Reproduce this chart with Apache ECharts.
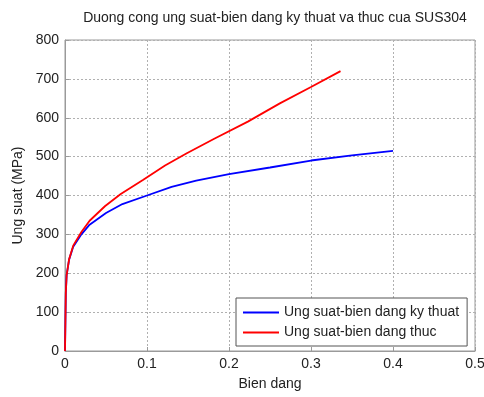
<!DOCTYPE html>
<html>
<head>
<meta charset="utf-8">
<script src="https://cdn.jsdelivr.net/npm/echarts@6/dist/echarts.min.js"></script>
<style>
  html, body { margin: 0; padding: 0; background: #fff; }
  #chart { width: 484px; height: 397px; }
</style>
</head>
<body>
<div id="chart"></div>
<script>
// 工程应力-应变 (engineering)
const engStrain = [0, 0.001, 0.002, 0.005, 0.01, 0.02, 0.03, 0.05, 0.07, 0.1, 0.13, 0.16, 0.2, 0.25, 0.3, 0.35, 0.4]
const engStress = [0, 150, 195, 235, 268, 300, 325, 355, 378, 400, 422, 438, 455, 472, 490, 503, 515]

// 真实应力-应变 (true)
const trueStrain = [0, 0.001, 0.002, 0.005, 0.01, 0.02, 0.03, 0.049, 0.068, 0.095, 0.122, 0.148, 0.182, 0.223, 0.262, 0.3, 0.336]
const trueStress = [0, 150, 195, 236, 271, 306, 335, 373, 404, 440, 477, 508, 546, 590, 637, 679, 720]

const seriesNames = ['Ung suat-bien dang ky thuat', 'Ung suat-bien dang thuc']
const titleText = 'Duong cong ung suat-bien dang ky thuat va thuc cua SUS304'

const FONT = 'Liberation Sans'
const pair = (xs, ys) => xs.map((x, i) => [x, ys[i]])

const axisCommon = {
  axisLine: {show: true, lineStyle: {color: '#9a9a9a', width: 1}},
  axisTick: {show: true, inside: true, length: 4, lineStyle: {color: '#9a9a9a'}},
  axisLabel: {color: '#222', fontSize: 14, fontFamily: FONT, margin: 6},
  splitLine: {show: true, lineStyle: {color: '#b0b0b0', width: 1, type: [2, 2]}},
  nameTextStyle: {color: '#222', fontSize: 14, fontFamily: FONT}
}

const chart = echarts.init(document.getElementById('chart'))
chart.setOption({
  animation: false,
  backgroundColor: '#fff',
  title: {
    text: titleText,
    left: 270,
    textAlign: 'center',
    top: 6,
    textStyle: {color: '#222', fontSize: 14, fontWeight: 'normal', fontFamily: FONT}
  },
  grid: {
    left: 65, right: 9, top: 40, bottom: 46,
    outerBoundsMode: 'none',
    show: true, borderColor: '#9a9a9a', borderWidth: 1, backgroundColor: 'transparent'
  },
  xAxis: {
    ...axisCommon,
    type: 'value', min: 0, max: 0.5, interval: 0.1,
    name: 'Bien dang', nameLocation: 'middle', nameGap: 26
  },
  yAxis: {
    ...axisCommon,
    type: 'value', min: 0, max: 800, interval: 100,
    name: 'Ung suat (MPa)', nameLocation: 'middle', nameGap: 40
  },
  legend: {
    orient: 'vertical',
    left: 236, top: 298,
    padding: [7, 8, 6, 7],
    itemGap: 5,
    icon: 'rect',
    itemWidth: 36, itemHeight: 2,
    backgroundColor: '#fff',
    borderColor: '#555', borderWidth: 1, borderRadius: 0,
    textStyle: {color: '#222', fontSize: 14, fontFamily: FONT, lineHeight: 15},
    data: seriesNames
  },
  series: [
    {
      name: seriesNames[0], type: 'line', data: pair(engStrain, engStress),
      symbol: 'none', lineStyle: {color: '#0000ff', width: 1.8}, itemStyle: {color: '#0000ff'}
    },
    {
      name: seriesNames[1], type: 'line', data: pair(trueStrain, trueStress),
      symbol: 'none', lineStyle: {color: '#ff0000', width: 1.8}, itemStyle: {color: '#ff0000'}
    }
  ]
})
</script>
</body>
</html>
